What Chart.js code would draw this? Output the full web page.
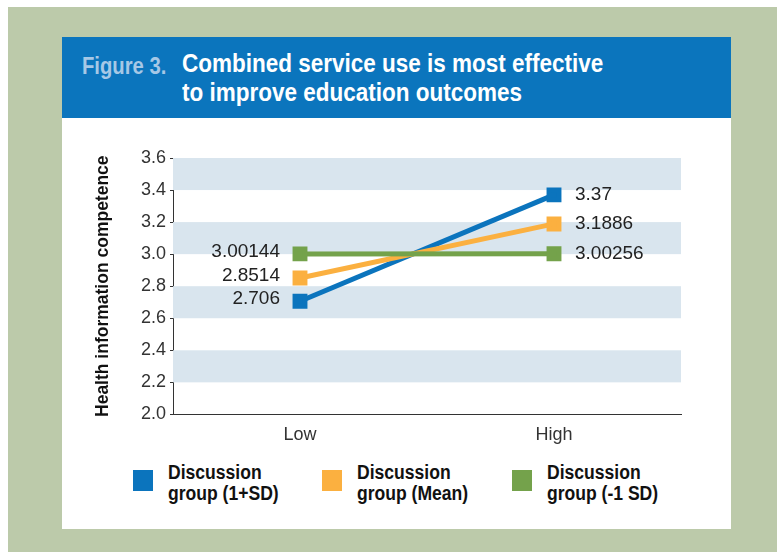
<!DOCTYPE html>
<html>
<head>
<meta charset="utf-8">
<script src="https://cdn.jsdelivr.net/npm/chart.js@4"></script>
<style>
  body { margin: 0; background: #fff; }
  #page {
    position: absolute; left: 8px; top: 7px; width: 769px; height: 545px;
    background: #bccaaa;
  }
  #panel {
    position: absolute; left: 54px; top: 30px; width: 669px; height: 492px;
    background: #fff;
  }
  #header {
    position: absolute; left: 0; top: 0; width: 669px; height: 81px;
    background: #0b75bd;
    font-family: "Liberation Sans", sans-serif;
    font-weight: bold;
  }
  #fig {
    position: absolute; left: 20px; top: 16px; font-size: 23px; color: #a6c8e6;
    transform: scaleX(0.88); transform-origin: left top; white-space: nowrap;
  }
  #title {
    position: absolute; left: 120px; top: 12px; font-size: 26px; line-height: 29px; color: #fff;
    transform: scaleX(0.865); transform-origin: left top; white-space: nowrap;
  }
  #chartBox { position: absolute; left: 0; top: 81px; width: 669px; height: 330px; }
  .leg {
    position: absolute; top: 422px;
    font-family: "Liberation Sans", sans-serif;
    font-weight: bold; font-size: 19.5px; line-height: 21px; color: #111;
  }
  .leg .sw { position: absolute; left: 0; top: 11px; width: 20px; height: 21px; }
  .leg .txt {
    position: absolute; left: 35px; top: 3px; white-space: nowrap;
    transform: scaleX(0.9); transform-origin: left top;
  }
</style>
</head>
<body>
<div id="page">
  <div id="panel">
    <div id="header">
      <div id="fig">Figure 3.</div>
      <div id="title">Combined service use is most effective<br>to improve education outcomes</div>
    </div>
    <div id="chartBox"><canvas id="chartEfeito"></canvas></div>
    <div id="legenda"></div>
  </div>
</div>
<script>
const categorias = ["Low", "High"];

const nomesSeries = [
    ["Discussion", "group (1+SD)"],
    ["Discussion", "group (Mean)"],
    ["Discussion", "group (-1 SD)"],
];
const coresSeries = ["#0b74bd", "#fbb040", "#74a24b"];

const grupoAlto = [2.706, 3.37];
const grupoMedio = [2.8514, 3.1886];
const grupoBaixo = [3.00144, 3.00256];

const ticksY = [2.0, 2.2, 2.4, 2.6, 2.8, 3.0, 3.2, 3.4, 3.6];
const faixasY = [[3.4, 3.6], [3.0, 3.2], [2.6, 2.8], [2.2, 2.4]];

const fonte = '"Liberation Sans", sans-serif';

// legenda em html, duas linhas por item
const legenda = document.getElementById("legenda");
const posLegenda = [71, 260, 450];
nomesSeries.forEach((nome, i) => {
    const item = document.createElement("div");
    item.className = "leg";
    item.style.left = posLegenda[i] + "px";
    item.innerHTML = '<div class="sw" style="background:' + coresSeries[i] + '"></div>' +
        '<div class="txt">' + nome.join("<br>") + '</div>';
    legenda.appendChild(item);
});

// faixas horizontais atrás das linhas
const faixas = {
    id: "faixas",
    beforeDatasetsDraw(chart) {
        const { ctx, chartArea, scales } = chart;
        ctx.save();
        ctx.fillStyle = "#d9e5ee";
        faixasY.forEach(([a, b]) => {
            const y1 = scales.y.getPixelForValue(b);
            const y2 = scales.y.getPixelForValue(a);
            ctx.fillRect(chartArea.left, y1, chartArea.right - chartArea.left, y2 - y1);
        });
        ctx.restore();
    }
};

// valores ao lado dos pontos
const rotulos = {
    id: "rotulos",
    afterDatasetsDraw(chart) {
        const { ctx } = chart;
        ctx.save();
        ctx.font = "19px " + fonte;
        ctx.fillStyle = "#222";
        ctx.textBaseline = "middle";
        chart.data.datasets.forEach((ds, i) => {
            const meta = chart.getDatasetMeta(i);
            meta.data.forEach((pt, j) => {
                const txt = String(ds.data[j]);
                if (j === 0) {
                    ctx.textAlign = "right";
                    ctx.fillText(txt, pt.x - 20, pt.y - 2);
                } else {
                    ctx.textAlign = "left";
                    ctx.fillText(txt, pt.x + 21, pt.y);
                }
            });
        });
        ctx.restore();
    }
};

const series = [grupoAlto, grupoMedio, grupoBaixo];

new Chart(document.getElementById("chartEfeito"), {
    type: "line",
    data: {
        labels: categorias,
        datasets: series.map((dados, i) => ({
            label: nomesSeries[i].join(" "),
            data: dados,
            borderColor: coresSeries[i],
            backgroundColor: coresSeries[i],
            borderWidth: 5,
            pointStyle: "rect",
            pointRadius: 7,
            pointHoverRadius: 7,
            tension: 0,
        })).reverse(),
    },
    options: {
        responsive: true,
        maintainAspectRatio: false,
        animation: false,
        layout: {
            padding: { left: 31, right: 50, top: 40, bottom: 0 }
        },
        plugins: {
            legend: { display: false },
            tooltip: { enabled: false },
        },
        scales: {
            x: {
                offset: true,
                grid: { display: false },
                border: { display: true, color: "#333", width: 1 },
                ticks: {
                    color: "#333",
                    padding: 2,
                    font: { family: fonte, size: 18 },
                },
            },
            y: {
                min: 2.0,
                max: 3.6,
                afterFit(scale) { scale.width = 80; },
                afterBuildTicks(scale) { scale.ticks = ticksY.map(v => ({ value: v })); },
                grid: { drawOnChartArea: false, tickLength: 3, color: "#333" },
                border: { display: true, color: "#333", width: 1 },
                ticks: {
                    color: "#333",
                    padding: 4,
                    font: { family: fonte, size: 18 },
                    callback: v => v.toFixed(1),
                },
                title: {
                    display: true,
                    text: "Health information competence",
                    color: "#111",
                    padding: 0,
                    font: { family: fonte, size: 17.5, weight: "bold" },
                },
            },
        },
    },
    plugins: [faixas, rotulos],
});
</script>
</body>
</html>
